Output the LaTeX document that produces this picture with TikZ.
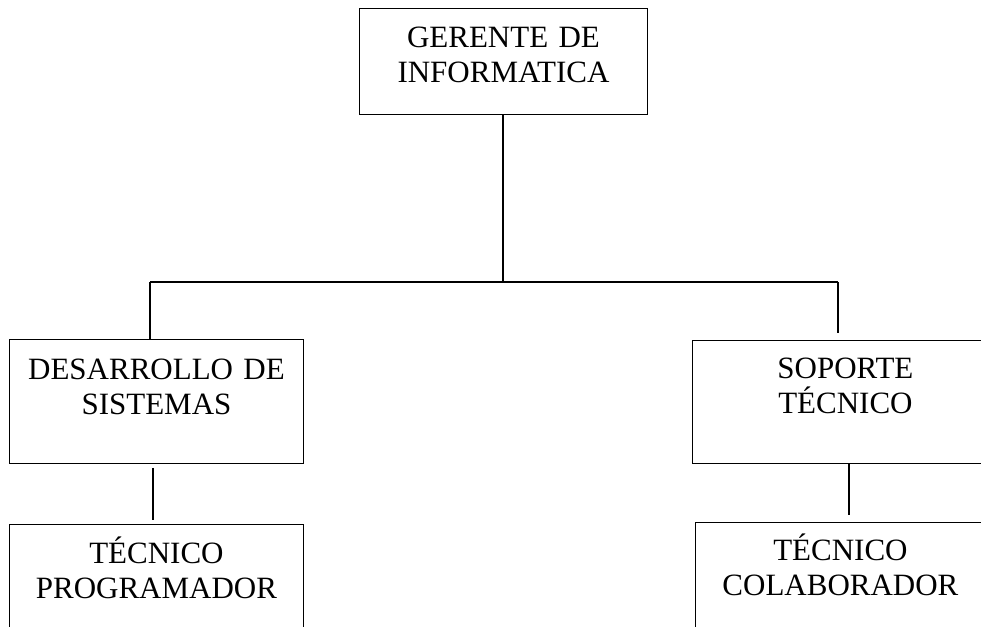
\documentclass[tikz,border=0pt]{standalone}
\usepackage{fontspec}
\setmainfont{Liberation Serif}
\tikzset{%
caja/.style={draw,line width=0.9pt,anchor=north west,inner xsep=0pt,inner ysep=0pt,
  align=center,font=\fontsize{31}{35}\selectfont},
linea/.style={line width=2pt},
}

\begin{document}
\begin{tikzpicture}[x=1pt,y=-1pt]
    \clip (0,0) rectangle (981,626);
    \node[caja,text width=288pt,text height=39pt,text depth=67pt] (ger) at (359,8) {GERENTE DE\\INFORMATICA};
    \node[caja,text width=294pt,text height=40pt,text depth=84pt] (des) at (9,339) {DESARROLLO DE\\SISTEMAS};
    \node[caja,text width=306pt,text height=38pt,text depth=85pt] (sop) at (692,340) {SOPORTE\\TÉCNICO};
    \node[caja,text width=294pt,text height=39pt,text depth=200pt] (prog) at (9,524) {TÉCNICO\\PROGRAMADOR};
    \node[caja,text width=290pt,text height=38pt,text depth=200pt] (col) at (695,522) {TÉCNICO\\COLABORADOR};
    \coordinate (busL) at (150,282);
    \coordinate (busR) at (838,282);
    \draw[linea] (busL)--(busR);
    \draw[linea] (ger.south)--(ger.south |- busL);
    \draw[linea] (busL)--(busL |- des.north);
    \draw[linea,shorten >=7pt] (busR)--(busR |- sop.north);
    \draw[linea,shorten <=4pt,shorten >=4pt] ([xshift=-3pt]des.south)--([xshift=-3pt]des.south |- prog.north);
    \draw[linea,shorten >=7pt] ([xshift=4pt]sop.south)--([xshift=4pt]sop.south |- col.north);
\end{tikzpicture}
\end{document}
